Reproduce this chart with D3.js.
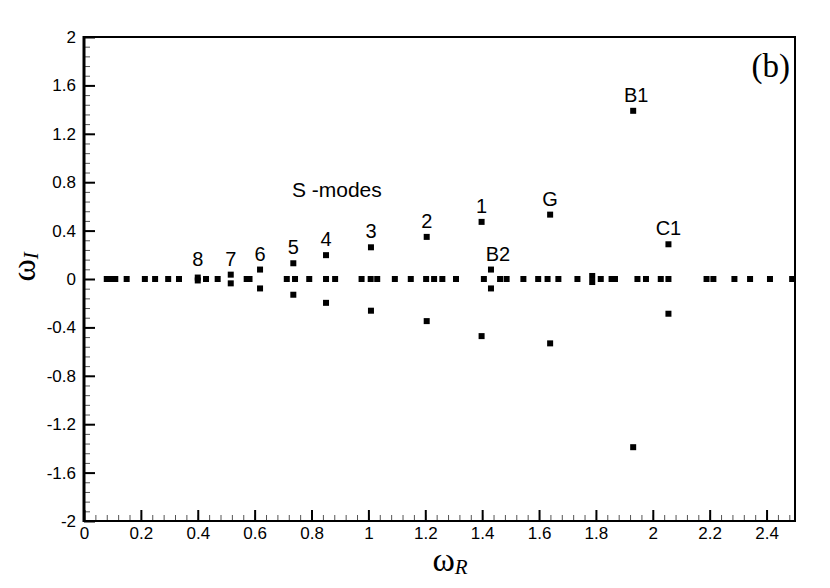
<!DOCTYPE html>
<html>
<head>
<meta charset="utf-8">
<script src="https://cdn.jsdelivr.net/npm/d3@7"></script>
<style>
  body { margin: 0; background: #fff; }
  svg text { fill: #000; }
</style>
</head>
<body>
<svg id="chart" width="830" height="588"></svg>
<script>
// eigenvalues lying on the real axis (omega_I = 0)
const realOmegaR = [0.080, 0.097, 0.110, 0.150, 0.214, 0.250, 0.296, 0.334, 0.429, 0.470,
  0.572, 0.582, 0.713, 0.742, 0.792, 0.851, 0.883, 0.976, 1.008, 1.031, 1.093, 1.149,
  1.203, 1.231, 1.260, 1.308, 1.406, 1.463, 1.486, 1.545, 1.597, 1.630, 1.668, 1.735,
  1.817, 1.855, 1.867, 1.946, 1.976, 2.028, 2.055, 2.189, 2.213, 2.287, 2.342, 2.412, 2.490];

// complex conjugate pairs: omega_R, |omega_I|
const pairOmegaR = [0.400, 0.516, 0.619, 0.736, 0.851, 1.009, 1.205, 1.398, 1.431, 1.639, 1.787, 1.931, 2.055];
const pairOmegaI = [0.012, 0.036, 0.078, 0.130, 0.197, 0.262, 0.348, 0.472, 0.078, 0.532, 0.025, 1.390, 0.287];
// label of each pair ('' = unlabelled)
const pairLabels = ['8', '7', '6', '5', '4', '3', '2', '1', 'B2', 'G', '', 'B1', 'C1'];

const xMajor = d3.range(0, 2.41, 0.2);
const yMajor = d3.range(-2, 2.01, 0.4);

const svg = d3.select('#chart');
const m = { left: 84, right: 35, top: 37, bottom: 67 };
const W = 830, H = 588;

const x = d3.scaleLinear().domain([0, 2.5]).range([m.left, W - m.right]);
const y = d3.scaleLinear().domain([-2, 2]).range([H - m.bottom, m.top]);

const fmt = d => String(+d.toFixed(1));
const sans = '"Liberation Sans", Arial, sans-serif';
const serif = '"Liberation Serif", "Times New Roman", serif';

// minor ticks
svg.append('g')
  .attr('transform', `translate(0,${y(-2)})`)
  .call(d3.axisBottom(x).tickValues(d3.range(0, 2.5, 0.04)).tickSize(-6).tickFormat(''))
  .call(g => g.select('.domain').remove())
  .selectAll('line').attr('stroke', '#555').attr('stroke-width', 1);
svg.append('g')
  .attr('transform', `translate(${x(0)},0)`)
  .call(d3.axisLeft(y).tickValues(d3.range(-2, 2.0, 0.08)).tickSize(-6).tickFormat(''))
  .call(g => g.select('.domain').remove())
  .selectAll('line').attr('stroke', '#555').attr('stroke-width', 1);

// major ticks and labels
const xAxis = svg.append('g')
  .attr('transform', `translate(0,${y(-2)})`)
  .call(d3.axisBottom(x).tickValues(xMajor).tickSize(-11).tickPadding(4).tickFormat(fmt));
const yAxis = svg.append('g')
  .attr('transform', `translate(${x(0)},0)`)
  .call(d3.axisLeft(y).tickValues(yMajor).tickSize(-11).tickPadding(8).tickFormat(fmt));

[xAxis, yAxis].forEach(g => {
  g.select('.domain').remove();
  g.selectAll('line').attr('stroke', '#000').attr('stroke-width', 2);
  g.selectAll('text')
    .style('font-family', sans)
    .style('font-size', '17px');
});
xAxis.selectAll('text').attr('dy', '0.85em');

// frame
svg.append('rect')
  .attr('x', x(0)).attr('y', y(2))
  .attr('width', x(2.5) - x(0)).attr('height', y(-2) - y(2))
  .attr('fill', 'none').attr('stroke', '#000').attr('stroke-width', 2);
svg.append('line')
  .attr('x1', x(0)).attr('x2', x(0)).attr('y1', y(2) - 1).attr('y2', y(-2) + 1)
  .attr('stroke', '#000').attr('stroke-width', 3);

// markers
const pts = realOmegaR.map(r => [r, 0]);
pairOmegaR.forEach((r, i) => {
  pts.push([r, pairOmegaI[i]]);
  pts.push([r, -pairOmegaI[i]]);
});
const s = 6;
svg.append('g').selectAll('rect')
  .data(pts)
  .join('rect')
  .attr('x', d => x(d[0]) - s / 2)
  .attr('y', d => y(d[1]) - s / 2)
  .attr('width', s).attr('height', s)
  .attr('fill', '#000');

// mode labels
svg.append('g').selectAll('text')
  .data(pairOmegaR.map((r, i) => ({ r, im: pairOmegaI[i], label: pairLabels[i] })).filter(d => d.label))
  .join('text')
  .attr('x', d => x(d.r) + (d.label === 'B2' ? 7 : d.label === 'B1' ? 3 : 0))
  .attr('y', d => y(Math.max(d.im, 0.03)) - 9)
  .attr('text-anchor', 'middle')
  .style('font-family', sans)
  .style('font-size', '20px')
  .text(d => d.label);

svg.append('text')
  .attr('x', x(0.731)).attr('y', y(0.68))
  .style('font-family', sans)
  .style('font-size', '21px')
  .text('S -modes');

svg.append('text')
  .attr('x', x(2.5) - 5).attr('y', y(2) + 40)
  .attr('text-anchor', 'end')
  .style('font-family', serif)
  .style('font-size', '33px')
  .text('(b)');

// axis titles
const xt = svg.append('text')
  .attr('x', 450).attr('y', 571)
  .attr('text-anchor', 'middle')
  .style('font-family', serif);
xt.append('tspan').style('font-size', '34px').text('ω');
xt.append('tspan').style('font-size', '21px').style('font-style', 'italic').attr('dy', 3).text('R');

const yt = svg.append('text')
  .attr('transform', `translate(35,${y(0.1)}) rotate(-90)`)
  .attr('text-anchor', 'middle')
  .style('font-family', serif);
yt.append('tspan').style('font-size', '34px').text('ω');
yt.append('tspan').style('font-size', '21px').style('font-style', 'italic').attr('dy', 3).text('I');
</script>
</body>
</html>
